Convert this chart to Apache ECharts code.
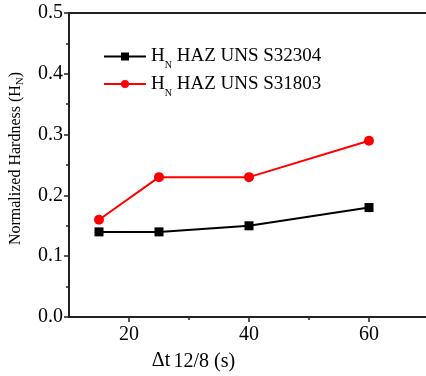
<!DOCTYPE html>
<html>
<head>
<meta charset="utf-8">
<script src="https://cdn.jsdelivr.net/npm/echarts@6/dist/echarts.min.js"></script>
<style>
  html, body { margin: 0; padding: 0; background: #fff; }
  #chart { width: 426px; height: 376px; }
</style>
</head>
<body>
<div id="chart"></div>
<script>
// Cooling time Δt 12/8 (s)
const coolingTimes = [15, 25, 40, 60];
// Normalized hardness of the heat-affected zone
const hardnessS32304 = [0.14, 0.14, 0.15, 0.18];
const hardnessS31803 = [0.16, 0.23, 0.23, 0.29];
const seriesNames = ['HN HAZ UNS S32304', 'HN HAZ UNS S31803'];
// x-axis tick positions: labelled major ticks and short minor ticks
const xMajorTicks = [20, 40, 60];
const xMinorTicks = [30, 50];

const serif = 'Liberation Serif';
const axisColor = '#222';

function pairs(xs, ys) { return xs.map((x, i) => [x, ys[i]]); }

const chart = echarts.init(document.getElementById('chart'), null, { renderer: 'canvas' });

// "H" with a subscript "N" sitting below the baseline
const legendRich = {
  h: { fontFamily: serif, fontSize: 19, color: '#000', lineHeight: 28, verticalAlign: 'middle' },
  n: { fontFamily: serif, fontSize: 10, color: '#000', lineHeight: 10, verticalAlign: 'bottom' },
  t: { fontFamily: serif, fontSize: 19, color: '#000', lineHeight: 28, verticalAlign: 'middle' }
};

const xBase = { type: 'value', min: 10, max: 70, interval: 10, gridIndex: 0 };

chart.setOption({
  animation: false,
  backgroundColor: '#fff',
  grid: { left: 69, top: 13, width: 360, height: 304, containLabel: false, outerBoundsMode: 'none' },
  legend: {
    left: 103,
    top: 47,
    padding: 0,
    orient: 'vertical',
    itemWidth: 42,
    itemHeight: 10,
    itemGap: 4,
    data: seriesNames,
    formatter: function (name) {
      return '{h|H}{n|N}{t| ' + name.slice(3) + '}';
    },
    textStyle: { rich: legendRich }
  },
  xAxis: [
    Object.assign({}, xBase, {
      position: 'bottom',
      axisLine: { show: true, onZero: false, lineStyle: { color: axisColor, width: 2 } },
      axisTick: { show: true, inside: false, length: 5, customValues: xMajorTicks, lineStyle: { color: axisColor, width: 1.5 } },
      axisLabel: {
        fontFamily: serif, fontSize: 20, color: '#000', margin: 8,
        customValues: xMajorTicks
      },
      splitLine: { show: false },
      name: '{a|Δt} {b|12/8 (s)}',
      nameLocation: 'middle',
      nameGap: 29,
      nameTextStyle: {
        padding: [0, 111, 0, 0],
        rich: {
          a: { fontFamily: serif, fontSize: 20, color: '#000', lineHeight: 25, verticalAlign: 'middle' },
          b: { fontFamily: serif, fontSize: 20, color: '#000', lineHeight: 20, verticalAlign: 'middle', padding: [2, 0, 0, 0] }
        }
      }
    }),
    Object.assign({}, xBase, {
      position: 'top',
      axisLine: { show: true, onZero: false, lineStyle: { color: axisColor, width: 2 } },
      axisTick: { show: false },
      axisLabel: { show: false },
      splitLine: { show: false }
    }),
    Object.assign({}, xBase, {
      position: 'bottom',
      axisLine: { show: false, onZero: false },
      axisTick: { show: true, inside: false, length: 3, customValues: xMinorTicks, lineStyle: { color: axisColor, width: 1.5 } },
      axisLabel: { show: false },
      splitLine: { show: false }
    })
  ],
  yAxis: {
    type: 'value',
    min: 0,
    max: 0.5,
    interval: 0.1,
    axisLine: { show: true, onZero: false, lineStyle: { color: axisColor, width: 2 } },
    axisTick: { show: true, inside: false, length: 5, lineStyle: { color: axisColor, width: 1.5 } },
    minorTick: { show: true, splitNumber: 2, length: 3, lineStyle: { color: axisColor, width: 1.5 } },
    axisLabel: {
      fontFamily: serif, fontSize: 20, color: '#000', margin: 6,
      formatter: function (v) { return v.toFixed(1); }
    },
    splitLine: { show: false },
    name: '{m|Normalized Hardness (H}{s|N}{m|)}',
    nameLocation: 'middle',
    nameGap: 43,
    nameRotate: 90,
    nameTextStyle: {
      padding: [0, 0, 0, 13],
      rich: {
        m: { fontFamily: serif, fontSize: 16, color: '#000', lineHeight: 20, verticalAlign: 'middle' },
        s: { fontFamily: serif, fontSize: 11, color: '#000', lineHeight: 14, verticalAlign: 'bottom' }
      }
    }
  },
  series: [
    {
      name: seriesNames[0],
      type: 'line',
      xAxisIndex: 0,
      data: pairs(coolingTimes, hardnessS32304),
      symbol: 'rect',
      symbolSize: 9,
      itemStyle: { color: '#000' },
      lineStyle: { color: '#000', width: 2 }
    },
    {
      name: seriesNames[1],
      type: 'line',
      xAxisIndex: 0,
      data: pairs(coolingTimes, hardnessS31803),
      symbol: 'circle',
      symbolSize: 10,
      itemStyle: { color: '#ff0000' },
      lineStyle: { color: '#ff0000', width: 2 }
    }
  ]
});
</script>
</body>
</html>
